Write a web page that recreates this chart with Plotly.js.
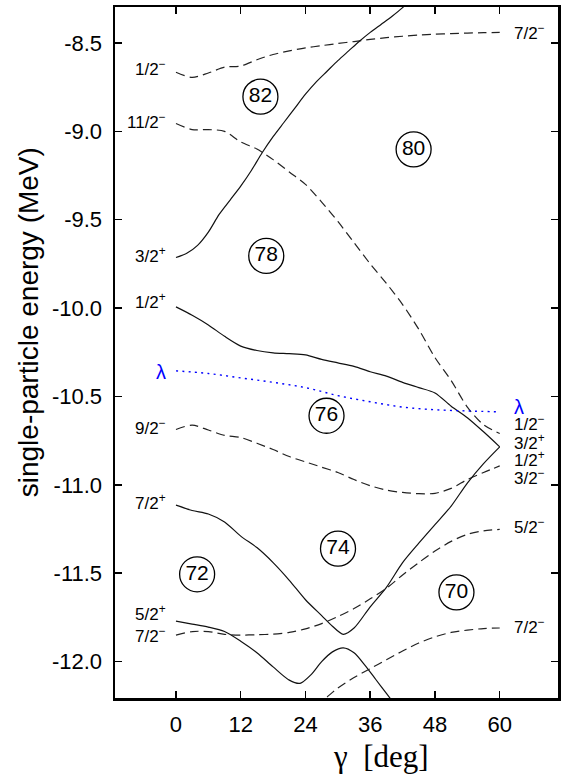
<!DOCTYPE html>
<html>
<head>
<meta charset="utf-8">
<script src="https://cdn.plot.ly/plotly-3.0.1.min.js"></script>
<style>
html,body{margin:0;padding:0;background:#fff;}
#plot{width:567px;height:775px;}
</style>
</head>
<body>
<div id="plot"></div>
<script>
// ---- data ----
var gammaStd = [0, 3, 6, 9, 12, 15, 18, 21, 24, 27, 30, 33, 36, 39, 42, 45, 48, 51, 54, 57, 60];

// 1/2- -> 7/2- (dashed, top)
var eA = [-8.666, -8.695, -8.670, -8.637, -8.630, -8.595, -8.565, -8.545, -8.528, -8.515, -8.503, -8.492, -8.480, -8.470, -8.462, -8.455, -8.450, -8.447, -8.444, -8.442, -8.440];
// 11/2- -> 1/2- (dashed)
var eB = [-8.956, -8.990, -8.990, -9.000, -9.060, -9.100, -9.160, -9.230, -9.300, -9.400, -9.510, -9.630, -9.750, -9.860, -9.980, -10.120, -10.280, -10.410, -10.560, -10.660, -10.710];
// 3/2+ (solid, rising out of frame)
var gammaC = [0, 2, 4, 6, 8, 10, 12, 14, 16, 18, 20, 22, 24, 26, 28, 30, 32, 34, 36, 38, 40, 42, 44];
var eC = [-9.714, -9.690, -9.645, -9.570, -9.470, -9.390, -9.310, -9.220, -9.120, -9.030, -8.950, -8.870, -8.790, -8.720, -8.660, -8.600, -8.545, -8.490, -8.440, -8.395, -8.350, -8.300, -8.240];
// 1/2+ -> 3/2+ (solid)
var eD = [-9.993, -10.040, -10.095, -10.160, -10.215, -10.240, -10.253, -10.258, -10.265, -10.290, -10.310, -10.330, -10.360, -10.385, -10.420, -10.450, -10.480, -10.555, -10.620, -10.700, -10.785];
// Fermi level lambda (dotted blue)
var gammaL = [0, 6, 12, 18, 24, 30, 36, 42, 48, 54, 60];
var eL = [-10.355, -10.370, -10.395, -10.420, -10.450, -10.495, -10.530, -10.560, -10.575, -10.582, -10.587];
// 9/2- -> 3/2- (dashed)
var eE = [-10.687, -10.662, -10.690, -10.720, -10.732, -10.765, -10.800, -10.840, -10.870, -10.900, -10.930, -10.970, -11.005, -11.030, -11.043, -11.050, -11.048, -11.020, -10.970, -10.930, -10.893];
// 7/2+ -> 1/2+ (solid)
var gammaF = [0, 3, 6, 9, 12, 15, 18, 21, 24, 27, 29, 31, 33, 36, 39, 42, 45, 48, 51, 54, 57, 60];
var eF = [-11.115, -11.145, -11.165, -11.210, -11.290, -11.355, -11.440, -11.540, -11.650, -11.740, -11.800, -11.846, -11.810, -11.690, -11.580, -11.440, -11.330, -11.225, -11.120, -10.990, -10.880, -10.785];
// 7/2- -> 5/2- (dashed)
var eG = [-11.850, -11.830, -11.830, -11.846, -11.850, -11.848, -11.845, -11.835, -11.815, -11.785, -11.745, -11.700, -11.645, -11.585, -11.510, -11.440, -11.375, -11.320, -11.280, -11.260, -11.252];
// 5/2+ (solid, dips out of frame)
var gammaH = [0, 3, 6, 9, 12, 15, 18, 21, 23, 25, 27, 29, 31, 33, 35, 37, 39, 41];
var eH = [-11.771, -11.788, -11.805, -11.830, -11.885, -11.950, -12.030, -12.105, -12.123, -12.075, -12.000, -11.945, -11.922, -11.950, -12.020, -12.100, -12.180, -12.260];
// -> 7/2- (dashed, entering from below)
var gammaI = [26, 28, 30, 33, 36, 39, 42, 45, 48, 51, 54, 57, 60];
var eI = [-12.250, -12.200, -12.150, -12.090, -12.040, -11.990, -11.940, -11.895, -11.860, -11.835, -11.822, -11.813, -11.810];

// shell-gap (particle number) circles
var gapNumbers = ['82', '80', '78', '76', '74', '72', '70'];
var gapGamma = [15.65, 44.04, 16.73, 27.9, 30.03, 3.92, 51.98];
var gapEnergy = [-8.804, -9.102, -9.705, -10.609, -11.361, -11.506, -11.608];

// level labels
var leftLabels = ['1/2<sup>\u2212</sup>', '11/2<sup>\u2212</sup>', '3/2<sup>+</sup>', '1/2<sup>+</sup>', '9/2<sup>\u2212</sup>', '7/2<sup>+</sup>', '5/2<sup>+</sup>', '7/2<sup>\u2212</sup>'];
var leftLabelE = [-8.654, -8.953, -9.714, -9.976, -10.689, -11.109, -11.740, -11.862];
var rightLabels = ['7/2<sup>\u2212</sup>', '1/2<sup>\u2212</sup>', '3/2<sup>+</sup>', '1/2<sup>+</sup>', '3/2<sup>\u2212</sup>', '5/2<sup>\u2212</sup>', '7/2<sup>\u2212</sup>'];
var rightLabelE = [-8.450, -10.663, -10.770, -10.868, -10.968, -11.245, -11.814];
var lambdaLabelE = [-10.360, -10.561];

var xTickVals = [0, 12, 24, 36, 48, 60];
var xTickText = ['0', '12', '24', '36', '48', '60'];
var yTickVals = [-8.5, -9.0, -9.5, -10.0, -10.5, -11.0, -11.5, -12.0];
var yTickText = ['-8.5', '-9.0', '-9.5', '-10.0', '-10.5', '-11.0', '-11.5', '-12.0'];

// ---- styling ----
var SANS = 'Liberation Sans, Arial, sans-serif';
var solid = {color: '#111', width: 1.2, shape: 'spline', smoothing: 0.8};
var dashed = {color: '#222', width: 1.2, dash: '9px,5px', shape: 'spline', smoothing: 0.8};

function tr(x, y, line) {
  return {x: x, y: y, type: 'scatter', mode: 'lines', line: line, hoverinfo: 'skip', showlegend: false};
}

var traces = [
  tr(gammaStd, eA, dashed),
  tr(gammaStd, eB, dashed),
  tr(gammaC, eC, solid),
  tr(gammaStd, eD, solid),
  tr(gammaL, eL, {color: '#0000ff', width: 1.4, dash: '2px,4.3px', shape: 'spline'}),
  tr(gammaStd, eE, dashed),
  tr(gammaF, eF, solid),
  tr(gammaStd, eG, dashed),
  tr(gammaH, eH, solid),
  tr(gammaI, eI, dashed),
  {
    x: gapGamma, y: gapEnergy, type: 'scatter', mode: 'markers+text',
    text: gapNumbers, textposition: 'middle center',
    textfont: {family: SANS, size: 21, color: '#000'},
    marker: {symbol: 'circle', size: 35, color: '#fff', line: {color: '#000', width: 1.3}},
    hoverinfo: 'skip', showlegend: false, cliponaxis: false
  }
];

var annotations = [];
leftLabels.forEach(function (t, i) {
  annotations.push({x: -1.4, y: leftLabelE[i], xref: 'x', yref: 'y', text: t, showarrow: false,
    xanchor: 'right', yanchor: 'middle', yshift: 2.5, font: {family: SANS, size: 17, color: '#000'}});
});
rightLabels.forEach(function (t, i) {
  annotations.push({x: 62.2, y: rightLabelE[i], xref: 'x', yref: 'y', text: t, showarrow: false,
    xanchor: 'left', yanchor: 'middle', yshift: 2.5, font: {family: SANS, size: 17, color: '#000'}});
});
annotations.push({x: -1.4, y: lambdaLabelE[0], xref: 'x', yref: 'y', text: '\u03bb', showarrow: false,
  xanchor: 'right', yanchor: 'middle', font: {family: SANS, size: 20, color: '#0000ff'}});
annotations.push({x: 62.2, y: lambdaLabelE[1], xref: 'x', yref: 'y', text: '\u03bb', showarrow: false,
  xanchor: 'left', yanchor: 'middle', font: {family: SANS, size: 20, color: '#0000ff'}});
// axis titles
annotations.push({x: 0.6, y: -0.085, xref: 'paper', yref: 'paper', text: '\u03b3  [deg]', showarrow: false,
  xanchor: 'center', yanchor: 'middle', font: {family: 'Liberation Serif, Times New Roman, serif', size: 31, color: '#000'}});
annotations.push({x: -0.196, y: 0.544, xref: 'paper', yref: 'paper', text: 'single-particle energy (MeV)', showarrow: false,
  textangle: -90, xanchor: 'center', yanchor: 'middle', font: {family: SANS, size: 28, color: '#000'}});

var axisCommon = {
  showline: true, linecolor: '#000', linewidth: 2.5, mirror: 'ticks',
  ticks: 'inside', ticklen: 7, tickwidth: 1.5, tickcolor: '#000',
  showgrid: false, zeroline: false,
  tickfont: {family: SANS, size: 22, color: '#000'}
};

var layout = {
  width: 567, height: 775,
  margin: {l: 115, r: 8.5, t: 7, b: 77, pad: 0},
  paper_bgcolor: '#fff', plot_bgcolor: '#fff',
  showlegend: false,
  xaxis: Object.assign({}, axisCommon, {range: [-11.3, 70.8], tickmode: 'array', tickvals: xTickVals, ticktext: xTickText, ticklabelstandoff: 5}),
  yaxis: Object.assign({}, axisCommon, {range: [-12.206, -8.2965], tickmode: 'array', tickvals: yTickVals, ticktext: yTickText, ticklabelstandoff: 6}),
  annotations: annotations
};

Plotly.newPlot('plot', traces, layout, {displayModeBar: false, staticPlot: true});
</script>
</body>
</html>
